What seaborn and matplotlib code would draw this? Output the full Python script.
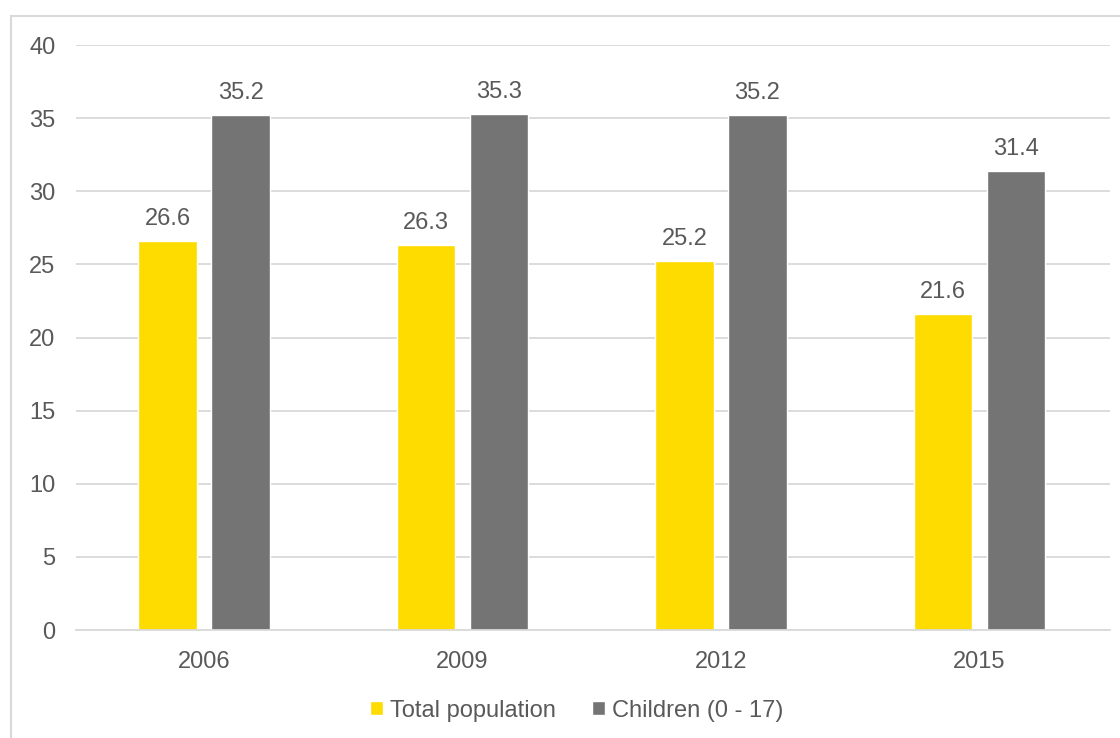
import pandas as pd
import seaborn as sns
import matplotlib.pyplot as plt
from matplotlib.patches import Rectangle

years = ["2006", "2009", "2012", "2015"]
total_population = [26.6, 26.3, 25.2, 21.6]
children = [35.2, 35.3, 35.2, 31.4]
series_names = ["Total population", "Children (0 - 17)"]
y_ticks = [0, 5, 10, 15, 20, 25, 30, 35, 40]

colors = ["#FFDC00", "#747474"]
text_color = "#595959"
grid_color = "#D9D9D9"


def build_frame():
    rows = []
    for year, t, c in zip(years, total_population, children):
        rows.append({"year": year, "series": series_names[0], "value": t})
        rows.append({"year": year, "series": series_names[1], "value": c})
    return pd.DataFrame(rows)


def plot():
    sns.set_style("white")
    plt.rcParams["font.family"] = ["Liberation Sans", "DejaVu Sans"]

    df = build_frame()
    fig = plt.figure(figsize=(11.2, 7.38), dpi=100)
    ax = fig.add_axes([0.068, 0.1463, 0.923, 0.7927])

    sns.barplot(data=df, x="year", y="value", hue="series", order=years,
                hue_order=series_names, palette=colors, width=0.564,
                gap=0.2, ax=ax, legend=True, saturation=1)

    for container in ax.containers:
        ax.bar_label(container, fmt="%.1f", padding=8, fontsize=17,
                     color=text_color)

    ax.set_ylim(0, 40)
    ax.set_xlim(-0.495, 3.505)
    ax.set_yticks(y_ticks)
    ax.yaxis.grid(True, color=grid_color, linewidth=1.3)
    ax.set_axisbelow(True)
    ax.tick_params(axis="both", length=0, labelsize=17, colors=text_color)
    ax.tick_params(axis="y", pad=15)
    ax.tick_params(axis="x", pad=15)
    ax.set_xlabel("")
    ax.set_ylabel("")
    for side in ["top", "right", "left"]:
        ax.spines[side].set_visible(False)
    ax.spines["bottom"].set_color(grid_color)
    ax.spines["bottom"].set_linewidth(1.3)

    handles, labels = ax.get_legend_handles_labels()
    ax.legend_.remove()
    fig.legend(handles, labels, loc="center", bbox_to_anchor=(0.515, 0.037),
               ncol=2, frameon=False, fontsize=17, labelcolor=text_color,
               handlelength=0.55, handleheight=0.55, handletextpad=0.3,
               columnspacing=1.5)

    # chart border
    fig.patches.append(Rectangle((11 / 1120, -0.05), 1.1, 0.05 + 1 - 16 / 738,
                                 transform=fig.transFigure, fill=False,
                                 edgecolor=grid_color, linewidth=1.5))

    fig.savefig("out.png", dpi=100)


if __name__ == "__main__":
    plot()
